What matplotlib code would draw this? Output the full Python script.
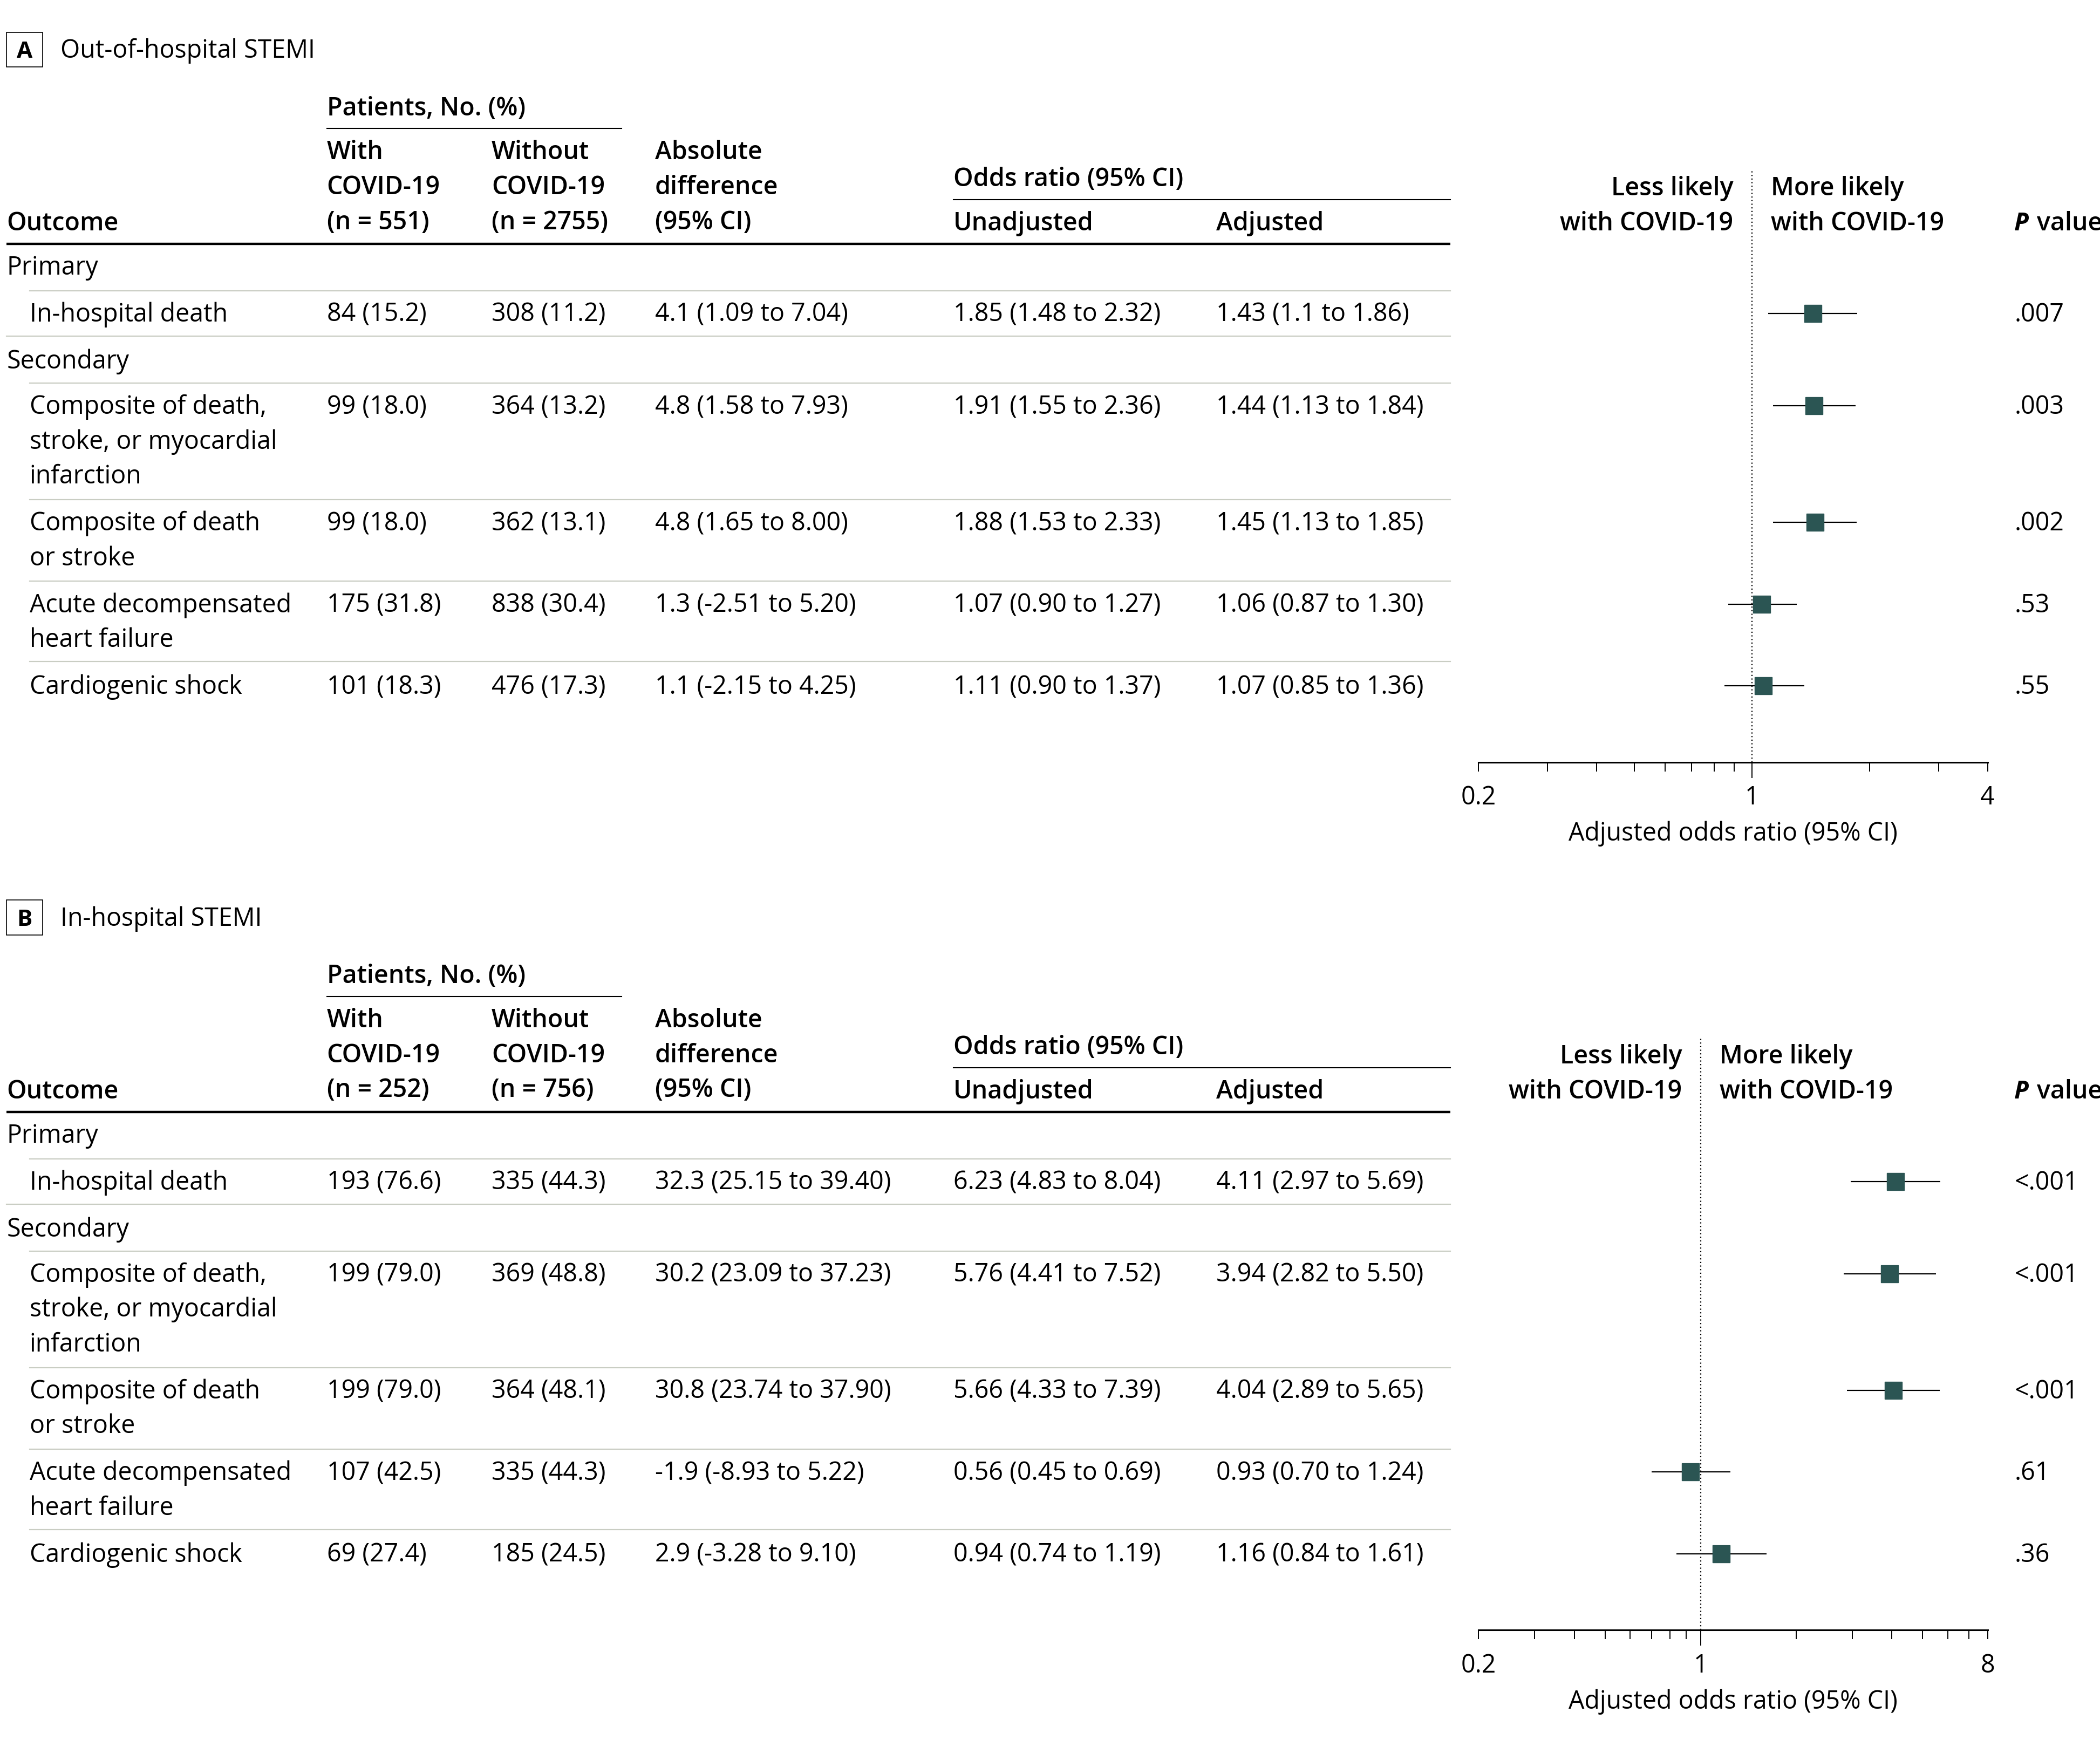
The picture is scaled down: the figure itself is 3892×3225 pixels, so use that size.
import numpy as np
import matplotlib
matplotlib.use("Agg")
import matplotlib.pyplot as plt
from matplotlib.patches import Rectangle

plt.rcParams["font.family"] = ["Open Sans", "DejaVu Sans"]

# ---- data ----
outcomes = [
    ["In-hospital death"],
    ["Composite of death,", "stroke, or myocardial", "infarction"],
    ["Composite of death", "or stroke"],
    ["Acute decompensated", "heart failure"],
    ["Cardiogenic shock"],
]
groups = ["Primary", "Secondary"]

a_n = ["(n = 551)", "(n = 2755)"]
a_with = ["84 (15.2)", "99 (18.0)", "99 (18.0)", "175 (31.8)", "101 (18.3)"]
a_without = ["308 (11.2)", "364 (13.2)", "362 (13.1)", "838 (30.4)", "476 (17.3)"]
a_absdiff = ["4.1 (1.09 to 7.04)", "4.8 (1.58 to 7.93)", "4.8 (1.65 to 8.00)",
             "1.3 (-2.51 to 5.20)", "1.1 (-2.15 to 4.25)"]
a_unadj = ["1.85 (1.48 to 2.32)", "1.91 (1.55 to 2.36)", "1.88 (1.53 to 2.33)",
           "1.07 (0.90 to 1.27)", "1.11 (0.90 to 1.37)"]
a_adj = ["1.43 (1.1 to 1.86)", "1.44 (1.13 to 1.84)", "1.45 (1.13 to 1.85)",
         "1.06 (0.87 to 1.30)", "1.07 (0.85 to 1.36)"]
a_or = [1.43, 1.44, 1.45, 1.06, 1.07]
a_lo = [1.1, 1.13, 1.13, 0.87, 0.85]
a_hi = [1.86, 1.84, 1.85, 1.30, 1.36]
a_p = [".007", ".003", ".002", ".53", ".55"]

b_n = ["(n = 252)", "(n = 756)"]
b_with = ["193 (76.6)", "199 (79.0)", "199 (79.0)", "107 (42.5)", "69 (27.4)"]
b_without = ["335 (44.3)", "369 (48.8)", "364 (48.1)", "335 (44.3)", "185 (24.5)"]
b_absdiff = ["32.3 (25.15 to 39.40)", "30.2 (23.09 to 37.23)", "30.8 (23.74 to 37.90)",
             "-1.9 (-8.93 to 5.22)", "2.9 (-3.28 to 9.10)"]
b_unadj = ["6.23 (4.83 to 8.04)", "5.76 (4.41 to 7.52)", "5.66 (4.33 to 7.39)",
           "0.56 (0.45 to 0.69)", "0.94 (0.74 to 1.19)"]
b_adj = ["4.11 (2.97 to 5.69)", "3.94 (2.82 to 5.50)", "4.04 (2.89 to 5.65)",
         "0.93 (0.70 to 1.24)", "1.16 (0.84 to 1.61)"]
b_or = [4.11, 3.94, 4.04, 0.93, 1.16]
b_lo = [2.97, 2.82, 2.89, 0.70, 0.84]
b_hi = [5.69, 5.50, 5.65, 1.24, 1.61]
b_p = ["<.001", "<.001", "<.001", ".61", ".36"]

# ---- layout (reference coords, 1568 x 1299 canvas) ----
W, H = 1568, 1299
FS = 33.5
LSP = 26
SEP = "#c9cdc3"
MARK = "#2b5553"
col_x = [244, 367, 489, 712, 908]
row_y = [234, 303, 390, 451, 512]
sep_y = [217, 251, 286, 373, 434, 494]
sep_x0 = [22, 5, 22, 22, 22, 22]
tbl_right = 1083
fx0, fx1 = 1104, 1484

fig = plt.figure(figsize=(38.92, 32.25), dpi=100)
bg = fig.add_axes([0, 0, 1, 1])
bg.set_xlim(0, W)
bg.set_ylim(H, 0)
bg.axis("off")


def txt(x, y, s, **kw):
    bg.text(x, y + 6, s, fontsize=kw.pop("fontsize", FS), va="baseline", **kw)


def lines(x, y, ss, **kw):
    for i, s in enumerate(ss):
        txt(x, y + i * LSP, s, **kw)


def panel(dy, letter, title, ns, cols, ors, los, his, ps, xmax, xticks, minors):
    # panel label
    bg.add_patch(Rectangle((5, 24 + dy), 27, 26, fill=False, lw=1.2, ec="black"))
    bg.text(18.5, 37 + dy + 6, letter, fontsize=FS - 3, fontweight="bold",
            ha="center", va="baseline")
    txt(45, 37 + dy, title)

    # header
    hb = dict(fontweight="semibold")
    txt(244, 80 + dy, "Patients, No. (%)", **hb)
    bg.plot([244, 464], [96 + dy] * 2, color="black", lw=1.5)
    lines(244, 113 + dy, ["With", "COVID-19", ns[0]], **hb)
    lines(367, 113 + dy, ["Without", "COVID-19", ns[1]], **hb)
    lines(489, 113 + dy, ["Absolute", "difference", "(95% CI)"], **hb)
    txt(5, 166 + dy, "Outcome", **hb)
    txt(712, 133 + dy, "Odds ratio (95% CI)", **hb)
    bg.plot([712, tbl_right], [149 + dy] * 2, color="black", lw=1.5)
    txt(712, 166 + dy, "Unadjusted", **hb)
    txt(908, 166 + dy, "Adjusted", **hb)
    bg.plot([5, tbl_right], [182 + dy] * 2, color="black", lw=3.2, solid_capstyle="butt")

    # body
    txt(5, 199 + dy, groups[0])
    txt(5, 269 + dy, groups[1])
    for y, x0 in zip(sep_y, sep_x0):
        bg.plot([x0, tbl_right], [y + dy] * 2, color=SEP, lw=1.6)
    for i, y in enumerate(row_y):
        lines(22, y + dy, outcomes[i])
        for x, col in zip(col_x, cols):
            txt(x, y + dy, col[i])
        txt(1504, y + dy, ps[i])
    txt(1504, 166 + dy, "P", fontstyle="italic", fontweight="bold")
    txt(1521, 166 + dy, "value", **hb)

    # forest plot
    top, axy = 126, 569
    ax = fig.add_axes([fx0 / W, 1 - (axy + dy) / H, (fx1 - fx0) / W, (axy - top) / H])
    ax.set_xscale("log")
    ax.set_xlim(0.2, xmax)
    ax.set_ylim(axy + dy, top + dy)
    ax.patch.set_alpha(0)
    for s in ["top", "left", "right"]:
        ax.spines[s].set_visible(False)
    ax.spines["bottom"].set_linewidth(2.2)
    ax.set_yticks([])
    ax.axvline(1, color="black", ls=(0, (1, 2)), lw=1.6, zorder=1)
    yy = np.array(row_y) + dy
    ors = np.array(ors)
    ax.errorbar(ors, yy, xerr=[ors - np.array(los), np.array(his) - ors], fmt="none",
                ecolor="black", elinewidth=1.6, capsize=0, zorder=2)
    ax.plot(ors, yy, "s", ms=23.5, color=MARK, mec=MARK, zorder=3)
    ax.set_xticks(xticks)
    ax.set_xticklabels([str(t) for t in xticks], fontsize=FS)
    ax.set_xticks(minors, minor=True)
    ax.xaxis.set_minor_formatter(plt.NullFormatter())
    ax.tick_params(axis="x", which="both", length=12, width=1.4, pad=18)
    for t, v in zip(ax.xaxis.get_major_ticks(), xticks):
        if v == 1:
            t.tick1line.set_markersize(21)
    ax.set_xlabel("Adjusted odds ratio (95% CI)", fontsize=FS, labelpad=14)

    # direction labels around the line of no effect
    x1 = fx0 + np.log(1 / 0.2) / np.log(xmax / 0.2) * (fx1 - fx0)
    lines(x1 - 14, 140 + dy, ["Less likely", "with COVID-19"], ha="right", **hb)
    lines(x1 + 14, 140 + dy, ["More likely", "with COVID-19"], **hb)


panel(0, "A", "Out-of-hospital STEMI", a_n,
      [a_with, a_without, a_absdiff, a_unadj, a_adj], a_or, a_lo, a_hi, a_p,
      4, [0.2, 1, 4], [0.3, 0.4, 0.5, 0.6, 0.7, 0.8, 0.9, 2, 3])
panel(648, "B", "In-hospital STEMI", b_n,
      [b_with, b_without, b_absdiff, b_unadj, b_adj], b_or, b_lo, b_hi, b_p,
      8, [0.2, 1, 8], [0.3, 0.4, 0.5, 0.6, 0.7, 0.8, 0.9, 2, 3, 4, 5, 6, 7])

fig.savefig("out.png", dpi=100)
